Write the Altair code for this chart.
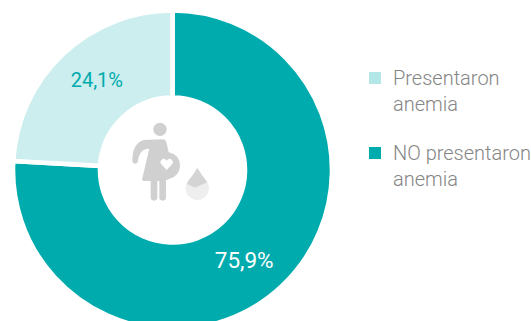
import altair as alt
import pandas as pd

# Survey shares
categories = ["NO presentaron\nanemia", "Presentaron\nanemia"]
shares = [75.9, 24.1]
share_labels = ["75,9%", "24,1%"]
midpoints = [37.95, 87.95]
slice_order = [0, 1]

df = pd.DataFrame({"cat": categories, "share": shares, "label": share_labels,
                   "mid": midpoints, "ord": slice_order})

TEAL = "#00abae"
PALE = "#b3e6e6"
FONT = "Roboto"
GREY = "#d0d0d0"
CX, CY = 172.5, 170

theta_scale = alt.Scale(domain=[0, 100], range=[0, 6.28318530718])
colour_scale = alt.Scale(domain=[categories[1], categories[0]], range=[PALE, TEAL])
key_rows = alt.Scale(domain=[categories[1], categories[0]], range=[78, 153], padding=0)

ring = alt.Chart(df).mark_arc(
    radius=159.5, radius2=72.5, stroke="white", strokeWidth=4.6
).encode(
    x=alt.value(CX), y=alt.value(CY),
    theta=alt.Theta("share:Q", stack=True, scale=theta_scale),
    order=alt.Order("ord:Q"),
    color=alt.Color("cat:N", scale=colour_scale, legend=None),
    fillOpacity=alt.FillOpacity(
        "cat:N",
        scale=alt.Scale(domain=[categories[1], categories[0]], range=[0.67, 1]),
        legend=None,
    ),
)

# Colour key: swatches and two-line captions share one row scale
key_swatches = alt.Chart(df).mark_square(size=144, opacity=1).encode(
    x=alt.value(375),
    y=alt.Y("cat:N", scale=key_rows, axis=None),
    color=alt.Color("cat:N", scale=colour_scale, legend=None),
)
key_captions = alt.Chart(df).mark_text(
    align="left", baseline="alphabetic", dy=7, font=FONT, fontSize=20, fontWeight=300,
    lineBreak="\n", lineHeight=25.5, color="#858585",
).encode(
    x=alt.value(393),
    y=alt.Y("cat:N", scale=key_rows, axis=None),
    text="cat:N",
)


def label_layer(row, colour, size, dx, dy):
    return alt.Chart(df[df["ord"] == row]).mark_text(
        radius=116, font=FONT, fontSize=size, color=colour, dx=dx, dy=dy
    ).encode(
        x=alt.value(CX), y=alt.value(CY),
        theta=alt.Theta("mid:Q", scale=theta_scale),
        text="label:N",
    )


# Pictogram pieces, drawn in a 3x grid anchored at (100, 100)
def glyph(path, colour):
    return alt.Chart(df.head(1)).mark_point(
        shape=path, size=4 / 9, filled=True, fill=colour, stroke=None, opacity=1
    ).encode(x=alt.value(100), y=alt.value(100))


HEAD = "M160 88a20 20 0 1 0 40 0a20 20 0 1 0 -40 0Z"
BODY = ("M130 120L188 118Q197 118 199 127L206 157Q240 165 240 197Q240 228 205 238"
        "L198 241L198 292Q198 302 188 302Q178 302 178 292L178 243L172 243L172 292"
        "Q172 302 162 302Q152 302 152 292L152 243L132 243Q125 243 127 234L148 146"
        "Q128 146 120 162Q114 172 114 182Q113 191 105 191Q97 191 97 181"
        "Q97 132 130 120Z")
HEART = ("M200 210L184 193Q178 186 185 179Q193 173 200 182Q207 173 215 179"
         "Q222 186 216 193Z")
DROP = "M292 204Q304 224 320 244A35 35 0 1 1 264 244Q280 224 292 204Z"
DROP_TOP = "M292 204Q304 224 322 247L285 263L261 252Q262 248 264 244Q280 224 292 204Z"

icon = [glyph(HEAD, GREY), glyph(BODY, GREY), glyph(HEART, "white"),
        glyph(DROP, "#eeeeee"), glyph(DROP_TOP, "#d4d4d4")]

chart = alt.layer(
    ring,
    key_swatches,
    key_captions,
    label_layer(0, "white", 22.5, -8, 7),
    label_layer(1, TEAL, 20, 4, -5),
    *icon,
).properties(
    width=531, height=321, padding=0, autosize=alt.AutoSizeParams(type="none")
).configure_view(stroke=None)

chart.save("out.html", embed_options={"renderer": "svg", "actions": False})
